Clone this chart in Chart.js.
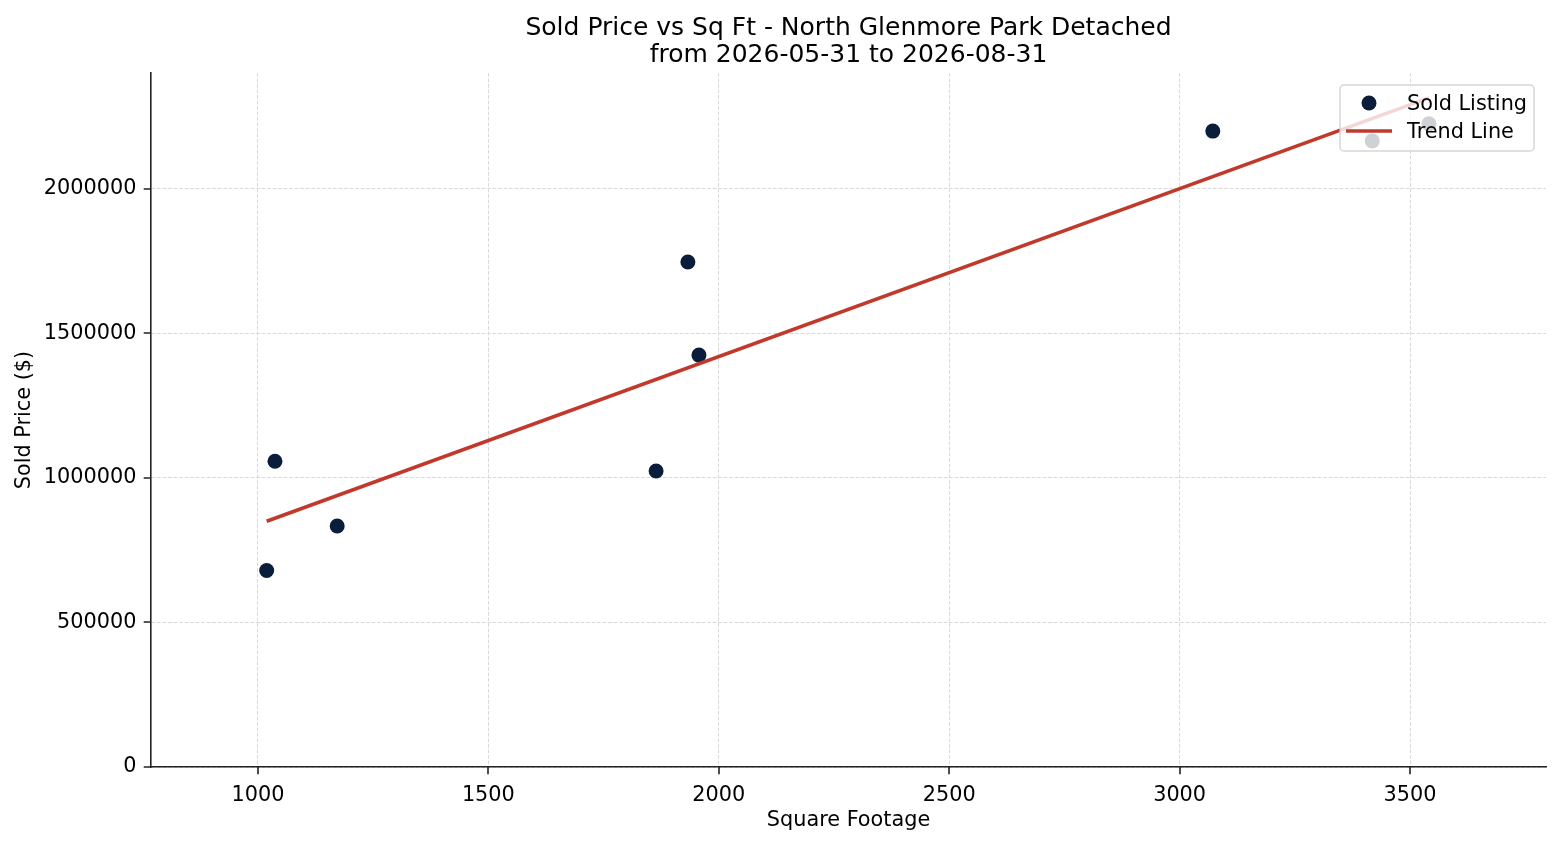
<!DOCTYPE html>
<html>
<head>
<meta charset="utf-8">
<script src="https://cdn.jsdelivr.net/npm/chart.js@4.4.1/dist/chart.umd.min.js"></script>
<style>
  html, body { margin:0; padding:0; background:#fff; }
  #wrap { width:1560px; height:845px; }
</style>
</head>
<body>
<div id="wrap"><canvas id="chart" width="1560" height="845"></canvas></div>
<script>
// ── DATA ──────────────────────────────────────────────────────────────────────
const sqft   = [1019, 1037, 1172, 1864, 1933, 1957, 3072, 3418, 3541];
const price  = [680000, 1058000, 834000, 1024000, 1747000, 1425000, 2200000, 2166000, 2225000];
const trendX = [1019, 3541];
const trendY = [850000, 2315000];
const xTicks = [1000, 1500, 2000, 2500, 3000, 3500];
const yTicks = [0, 500000, 1000000, 1500000, 2000000];
const titleLines = ['Sold Price vs Sq Ft - North Glenmore Park Detached', 'from 2026-05-31 to 2026-08-31'];

// ── STYLE ─────────────────────────────────────────────────────────────────────
const NAVY = '#0a1e3b';
const RED  = '#c0392b';
const GRID = '#d9d9d9';
const FONT = "'DejaVu Sans', sans-serif";
const FS   = 20.8;

Chart.defaults.font.family = FONT;
Chart.defaults.color = '#000';

// outward tick marks (solid, unlike the dashed grid)
const tickMarks = {
  id: 'tickMarks',
  afterDraw(chart) {
    const { ctx, scales: { x, y }, chartArea: a } = chart;
    ctx.save();
    ctx.strokeStyle = '#222';
    ctx.lineWidth = 1.6;
    ctx.beginPath();
    x.ticks.forEach(t => {
      const px = Math.round(x.getPixelForValue(t.value));
      ctx.moveTo(px, a.bottom); ctx.lineTo(px, a.bottom + 7.3);
    });
    y.ticks.forEach(t => {
      const py = Math.round(y.getPixelForValue(t.value));
      ctx.moveTo(a.left, py); ctx.lineTo(a.left - 7.3, py);
    });
    ctx.stroke();
    ctx.restore();
  }
};

// legend box inside the plot, upper right, semi-transparent
const boxLegend = {
  id: 'boxLegend',
  afterDatasetsDraw(chart) {
    const { ctx, chartArea: a } = chart;
    const [pts, line] = chart.data.datasets;
    const w = 194, h = 66;
    const bx = a.right - 12 - w, by = a.top + 12;
    ctx.save();
    ctx.fillStyle = 'rgba(255,255,255,0.8)';
    ctx.strokeStyle = 'rgba(204,204,204,0.8)';
    ctx.lineWidth = 1.5;
    ctx.beginPath();
    if (ctx.roundRect) ctx.roundRect(bx, by, w, h, 4); else ctx.rect(bx, by, w, h);
    ctx.fill(); ctx.stroke();

    ctx.fillStyle = pts.backgroundColor;
    ctx.beginPath(); ctx.arc(bx + 29, by + 18, 7.5, 0, Math.PI * 2); ctx.fill();

    ctx.strokeStyle = line.borderColor;
    ctx.lineWidth = line.borderWidth;
    ctx.beginPath(); ctx.moveTo(bx + 6, by + 46); ctx.lineTo(bx + 52, by + 46); ctx.stroke();

    ctx.fillStyle = '#000';
    ctx.font = FS + 'px ' + FONT;
    ctx.textBaseline = 'middle';
    ctx.fillText(pts.label, bx + 67, by + 19.5);
    ctx.fillText(line.label, bx + 67, by + 48);
    ctx.restore();
  }
};

new Chart(document.getElementById('chart'), {
  type: 'scatter',
  data: {
    datasets: [
      {
        label: 'Sold Listing',
        data: sqft.map((v, i) => ({ x: v, y: price[i] })),
        backgroundColor: NAVY,
        borderColor: NAVY,
        borderWidth: 0,
        pointRadius: 7.5,
        pointHoverRadius: 7.5,
        order: 1,
      },
      {
        label: 'Trend Line',
        type: 'line',
        data: trendX.map((v, i) => ({ x: v, y: trendY[i] })),
        borderColor: RED,
        borderWidth: 3.6,
        pointRadius: 0,
        fill: false,
        order: 0,
      },
    ],
  },
  options: {
    responsive: false,
    devicePixelRatio: 1,
    animation: false,
    events: [],
    layout: { padding: { top: 0, right: 14, left: 0, bottom: 0 } },
    plugins: {
      legend: { display: false },
      tooltip: { enabled: false },
      title: {
        display: true,
        text: titleLines,
        fullSize: false,
        color: '#000',
        font: { size: 25, weight: 'normal', lineHeight: 1.08 },
        padding: { top: 14.5, bottom: 4.5 },
      },
    },
    scales: {
      x: {
        type: 'linear',
        min: 768,
        max: 3795,
        afterBuildTicks: s => { s.ticks = xTicks.map(v => ({ value: v })); },
        afterFit: s => { s.height = 78; },
        ticks: { padding: 16.5, font: { size: FS }, color: '#000', callback: v => String(v) },
        grid: { color: GRID, lineWidth: 1, drawTicks: false },
        border: { color: '#222', width: 1.6, dash: [3.8, 1.7] },
        title: { display: true, text: 'Square Footage', color: '#000', font: { size: FS }, padding: { top: 0, bottom: 11.5 } },
      },
      y: {
        type: 'linear',
        min: 0,
        max: 2401000,
        afterBuildTicks: s => { s.ticks = yTicks.map(v => ({ value: v })); },
        afterFit: s => { s.width = 151; },
        ticks: { padding: 14.6, font: { size: FS }, color: '#000', callback: v => String(v) },
        grid: { color: GRID, lineWidth: 1, drawTicks: false },
        border: { color: '#222', width: 1.6, dash: [3.8, 1.7] },
        title: { display: true, text: 'Sold Price ($)', color: '#000', font: { size: FS }, padding: { top: 12.5, bottom: 0 } },
      },
    },
  },
  plugins: [tickMarks, boxLegend],
});
</script>
</body>
</html>
